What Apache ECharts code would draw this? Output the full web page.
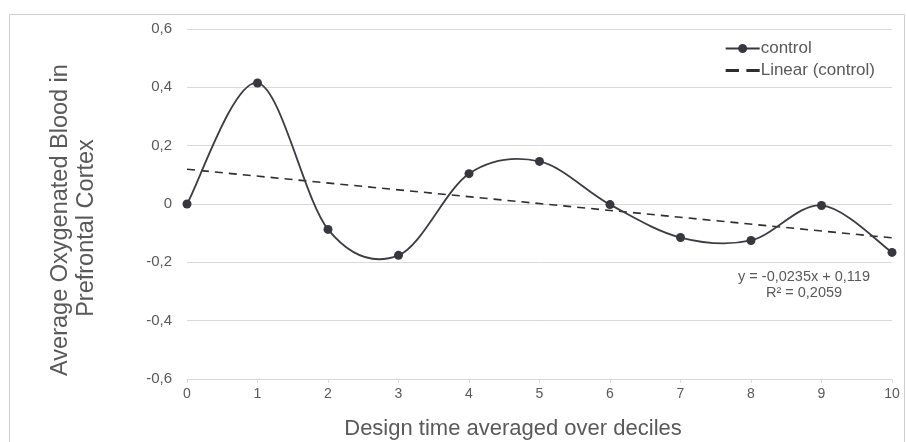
<!DOCTYPE html>
<html><head><meta charset="utf-8">
<script src="https://cdn.jsdelivr.net/npm/echarts@6/dist/echarts.min.js"></script>
<style>html,body{margin:0;padding:0;background:#fff}#c{width:906px;height:442px}</style>
</head><body><div id="c"></div>
<script>
const deciles = [0, 1, 2, 3, 4, 5, 6, 7, 8, 9, 10];
const controlValues = [0, 0.415, -0.087, -0.176, 0.104, 0.146, -0.002, -0.115, -0.125, -0.005, -0.166];
const trendX = [0, 10];
const trendY = [0.119, -0.116];
const yTicks = [-0.6, -0.4, -0.2, 0, 0.2, 0.4, 0.6];
const equationText = ['y = -0,0235x + 0,119', 'R² = 0,2059'];

const chart = echarts.init(document.getElementById('c'));
const fmt = v => { const r = Math.round(v * 10) / 10; return r === 0 ? '0' : String(r).replace('.', ','); };
const grey = '#595959';
const FF = '"Liberation Sans", Arial, sans-serif';
const lineColor = '#3c3c44';

function renderCurve(params, api) {
  if (params.dataIndex !== 0) return null;
  const P = deciles.map((x, i) => api.coord([x, controlValues[i]]));
  const n = P.length;
  const children = [];
  for (let i = 0; i < n - 1; i++) {
    const p0 = P[Math.max(i - 1, 0)], p1 = P[i], p2 = P[i + 1], p3 = P[Math.min(i + 2, n - 1)];
    children.push({
      type: 'bezierCurve',
      shape: {
        x1: p1[0], y1: p1[1], x2: p2[0], y2: p2[1],
        cpx1: p1[0] + (p2[0] - p0[0]) / 6, cpy1: p1[1] + (p2[1] - p0[1]) / 6,
        cpx2: p2[0] - (p3[0] - p1[0]) / 6, cpy2: p2[1] - (p3[1] - p1[1]) / 6
      },
      style: { stroke: lineColor, lineWidth: 1.8, fill: null }
    });
  }
  return { type: 'group', children };
}

chart.setOption({
  animation: false,
  textStyle: { fontFamily: FF },
  grid: { left: 187, right: 14, top: 29, bottom: 63 },
  legend: {
    right: 26, top: 35, orient: 'vertical', itemGap: 5, itemWidth: 34, itemHeight: 10,
    textStyle: { color: grey, fontSize: 17, fontFamily: FF, padding: [0, 0, 0, -4] },
    data: [
      { name: 'control', icon: 'path://M0,4 L13,4 L13,6 L0,6 Z M21,4 L34,4 L34,6 L21,6 Z M17,0.5 A4.5,4.5 0 1 1 16.99,0.5 Z' },
      { name: 'Linear (control)', icon: 'path://M0,4 L9,4 L9,6 L0,6 Z M14,4 L23,4 L23,6 L14,6 Z' }
    ]
  },
  xAxis: [{
    type: 'value', min: 0, max: 10, interval: 1,
    axisLine: { show: false }, axisTick: { show: false }, splitLine: { show: false },
    axisLabel: { color: grey, fontSize: 14, margin: 8 }
  }, {
    type: 'value', min: 0, max: 10, interval: 1, position: 'bottom',
    axisLine: { show: true, onZero: true, lineStyle: { color: '#d9d9d9' } },
    axisTick: { show: true, length: 4, inside: false, lineStyle: { color: '#d9d9d9' } },
    axisLabel: { show: false }, splitLine: { show: false }
  }],
  yAxis: {
    type: 'value', min: -0.6, max: 0.6, interval: 0.2,
    axisLine: { show: false }, axisTick: { show: false },
    splitLine: { lineStyle: { color: '#d9d9d9', width: 1 } },
    axisLabel: { color: grey, fontSize: 15, margin: 15, formatter: fmt }
  },
  graphic: [
    { type: 'rect', shape: { x: 9.5, y: 14.5, width: 895, height: 430 }, style: { fill: 'none', stroke: '#d0d0d0', lineWidth: 1 }, silent: true },
    { type: 'text', x: 513, y: 429, style: { text: 'Design time averaged over deciles', fill: grey, font: '22px ' + FF, align: 'center', verticalAlign: 'middle' } },
    { type: 'text', x: 61, y: 220, rotation: Math.PI / 2, style: { text: 'Average Oxygenated Blood in', fill: grey, font: '23.5px ' + FF, align: 'center', verticalAlign: 'middle' } },
    { type: 'text', x: 87, y: 228, rotation: Math.PI / 2, style: { text: 'Prefrontal Cortex', fill: grey, font: '23.5px ' + FF, align: 'center', verticalAlign: 'middle' } },
    { type: 'text', x: 804, y: 277, style: { text: equationText[0], fill: grey, font: '14.5px ' + FF, align: 'center', verticalAlign: 'middle' } },
    { type: 'text', x: 804, y: 293, style: { text: equationText[1], fill: grey, font: '14.5px ' + FF, align: 'center', verticalAlign: 'middle' } }
  ],
  series: [{
    name: 'curve', type: 'custom', renderItem: renderCurve,
    data: deciles.map((x, i) => [x, controlValues[i]]), z: 3, silent: true
  }, {
    name: 'control', type: 'line',
    data: deciles.map((x, i) => [x, controlValues[i]]),
    symbol: 'circle', symbolSize: 9,
    lineStyle: { width: 0, opacity: 0 },
    itemStyle: { color: '#37373f' }, z: 4
  }, {
    name: 'Linear (control)', type: 'line',
    data: trendX.map((x, i) => [x, trendY[i]]),
    symbol: 'none',
    lineStyle: { color: '#2e2e2e', width: 1.6, type: [8, 6] },
    itemStyle: { color: '#2e2e2e' }, z: 2
  }]
});
</script></body></html>
